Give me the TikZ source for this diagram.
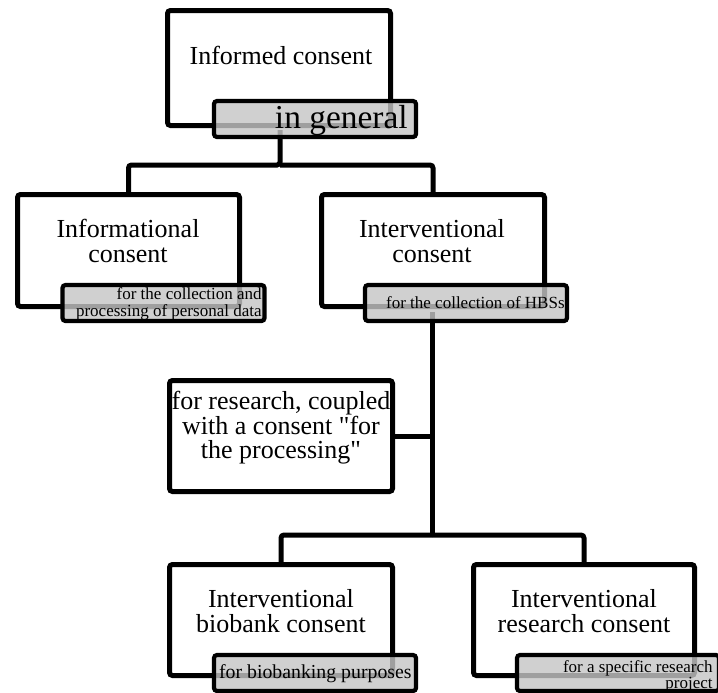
\documentclass[tikz,border=0pt]{standalone}
\usepackage{fontspec}
\setmainfont{Liberation Serif}
\definecolor{lblgray}{gray}{0.773}
\begin{document}
\begin{tikzpicture}[x=0.5pt,y=-0.5pt,
  box/.style={draw, line width=2.5pt, rounded corners=1.5pt, inner sep=0pt, outer sep=0pt},
  lbl/.style={draw, line width=2.1pt, rounded corners=1.5pt, fill=lblgray, fill opacity=0.81, draw opacity=1,
              inner sep=0pt, outer sep=0pt, minimum width=101pt, minimum height=18pt},
  main/.style={font=\fontsize{13}{12.3}\selectfont, align=center, inner sep=0pt},
  small/.style={font=\fontsize{8.5}{8.5}\selectfont, align=right, inner sep=0pt},
  conn/.style={line width=2.5pt, rounded corners=1.5pt}]
\useasboundingbox (0,0) rectangle (718,692);
\clip (0,0) rectangle (718,692);
% boxes
\node[box, minimum width=111.5pt, minimum height=57.5pt] (bInf) at (279,68) {};
\node[box, minimum width=111pt, minimum height=56pt] (bInfo) at (128.5,250.5) {};
\node[box, minimum width=111.5pt, minimum height=56pt] (bInter) at (433,250.5) {};
\node[box, minimum width=111.5pt, minimum height=55.5pt] (bRes) at (281,436) {};
\node[box, minimum width=111.5pt, minimum height=55.5pt] (bBio) at (281,620) {};
\node[box, minimum width=110.5pt, minimum height=55.5pt] (bRcs) at (584,620) {};
% box texts
\node[main, anchor=base] (tInf) at (281,64) {Informed consent};
\node[main] (tInfo) at (128,241) {Informational\\consent};
\node[main] (tInter) at (432,241) {Interventional\\consent};
\node[main] (tRes) at (281,428) {for research, coupled\\with a consent \textquotedbl for\\the processing\textquotedbl};
\node[main] (tBio) at (281,611) {Interventional\\biobank consent};
\node[main] (tRcs) at (584,611) {Interventional\\research consent};
% connectors
\coordinate (cTop) at (280,130);
\coordinate (jTop) at (280,165);
\coordinate (cInt) at (432,312);
\coordinate (jBot) at (432,535);
\draw[conn] (cTop) -- (jTop) -| (bInfo.north);
\draw[conn] (jTop) -| (bInter.north);
\draw[conn] (cInt) -- (jBot);
\draw[conn] (bRes.east) -- (bRes.east -| cInt);
\draw[conn] (jBot) -| (bBio.north);
\draw[conn] (jBot) -| (bRcs.north);
% labels
\node[lbl] (lGen) at (315,119) {};
\node[lbl] (lInfo) at (163.5,303) {};
\node[lbl] (lInter) at (466,303) {};
\node[lbl] (lBio) at (315,673) {};
\node[lbl] (lRcs) at (618,673) {};
% label texts
\node[inner sep=0pt, anchor=base east, font=\fontsize{16.7}{16.7}\selectfont] (tGen) at (408,128) {in general};
\node[small, anchor=east] (tInfoL) at (262,304) {for the collection and\\processing of personal data};
\node[small, anchor=base east] (tInterL) at (565,308) {for the collection of HBSs};
\node[inner sep=0pt, anchor=base east, font=\fontsize{9.9}{9.9}\selectfont] (tBioL) at (412,678) {for biobanking purposes};
\node[small, anchor=north east, font=\fontsize{8.5}{8.2}\selectfont] (tRcsL) at (713,660) {for a specific research\\project};
\end{tikzpicture}
\end{document}
